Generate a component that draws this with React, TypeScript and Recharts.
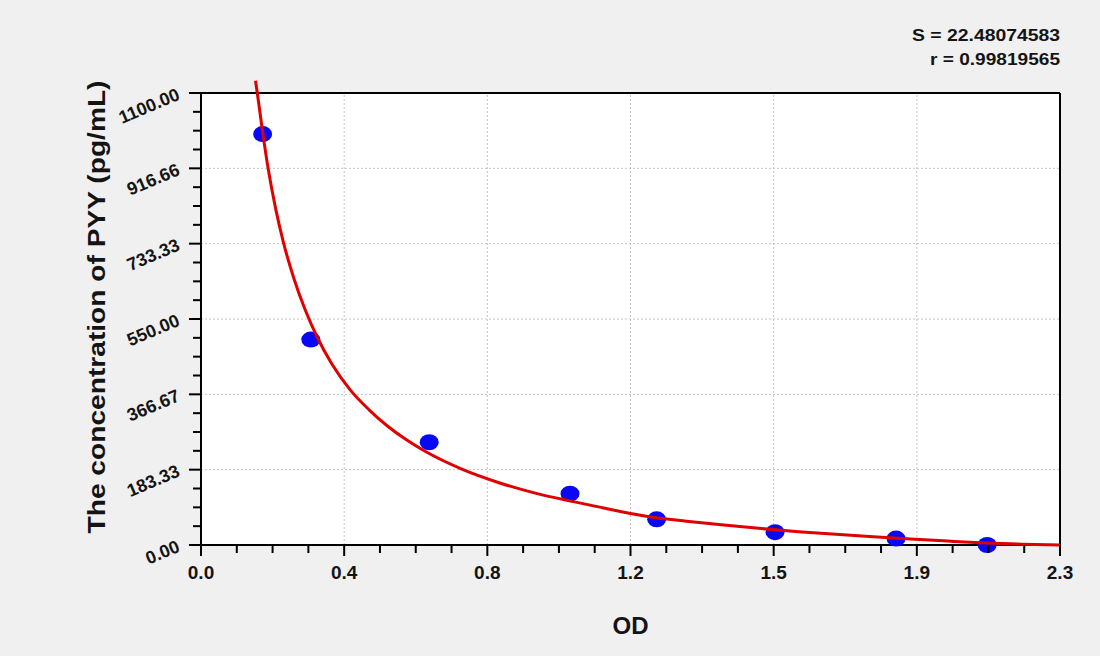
import React from "react";
import {
  ComposedChart,
  Line,
  Scatter,
  XAxis,
  YAxis,
  CartesianGrid,
  ReferenceLine,
} from "recharts";

// ---- data ----
const curveOD = [
  0.146, 0.155, 0.167, 0.18, 0.2, 0.22, 0.25, 0.28, 0.31, 0.35, 0.4, 0.45, 0.5, 0.55,
  0.6, 0.7, 0.8, 0.9, 1.0, 1.1, 1.2, 1.3, 1.4, 1.5, 1.6, 1.7, 1.8, 1.9, 2.0, 2.1, 2.2, 2.3,
];
const curveConc = [
  1130, 1072, 992, 915, 818, 739, 645, 570, 508, 441, 377, 329, 289, 256,
  228, 184, 151, 125, 105, 86, 69, 58, 48.5, 40, 32.5, 26, 20, 14.5, 9.5, 5, 2, 0,
];
const stdOD = [0.165, 0.294, 0.611, 0.988, 1.22, 1.537, 1.861, 2.105];
const stdConc = [1000, 500, 250, 125, 62.5, 31.25, 15.63, 0];

const xTickLabels = ["0.0", "0.4", "0.8", "1.2", "1.5", "1.9", "2.3"];
const yTickLabels = ["0.00", "183.33", "366.67", "550.00", "733.33", "916.66", "1100.00"];
const X_MAX = 2.3;
const Y_MAX = 1100;
const statS = "S = 22.48074583";
const statR = "r = 0.99819565";
const xTitle = "OD";
const yTitle = "The concentration of PYY (pg/mL)";

const curveData = curveOD.map((od, i) => ({ od, conc: curveConc[i] }));
const stdData = stdOD.map((od, i) => ({ od, conc: stdConc[i] }));
const xMajor = xTickLabels.map((_, i) => (X_MAX * i) / 6);
const yMajor = yTickLabels.map((_, i) => (Y_MAX * i) / 6);
const xAll = Array.from({ length: 25 }, (_, i) => (X_MAX * i) / 24);
const yAll = Array.from({ length: 25 }, (_, i) => (Y_MAX * i) / 24);

const FONT = "'Liberation Sans', Arial, Helvetica, sans-serif";
const TXT = "#141414";

const XTick = (props: any) => {
  const { x, y, payload } = props;
  const i = Math.round(payload.value / (X_MAX / 24));
  const major = i % 4 === 0;
  return (
    <g>
      <line x1={x} x2={x} y1={y} y2={y + (major ? 11 : 8)} stroke="#000" strokeWidth={2} />
      {major && (
        <text
          x={x}
          y={y + 34}
          textAnchor="middle"
          fontSize={19}
          fontWeight="bold"
          fontFamily={FONT}
          fill={TXT}
        >
          {xTickLabels[i / 4]}
        </text>
      )}
    </g>
  );
};

const YTick = (props: any) => {
  const { x, y, payload } = props;
  const i = Math.round(payload.value / (Y_MAX / 24));
  const major = i % 4 === 0;
  const tx = x - 20;
  const ty = y + 6;
  return (
    <g>
      <line x1={x - (major ? 12 : 8)} x2={x} y1={y} y2={y} stroke="#000" strokeWidth={2} />
      {major && (
        <text
          x={tx}
          y={ty}
          transform={`rotate(-23, ${tx}, ${ty})`}
          textAnchor="end"
          fontSize={18}
          fontWeight="bold"
          fontFamily={FONT}
          fill={TXT}
        >
          {yTickLabels[i / 4]}
        </text>
      )}
    </g>
  );
};

const YTitle = (props: any) => {
  const vb = props.viewBox || { x: 0, y: 93, width: 201, height: 452 };
  const cx = vb.x + 105;
  const cy = vb.y + vb.height / 2 - 12;
  return (
    <text
      x={cx}
      y={cy}
      transform={`rotate(-90, ${cx}, ${cy})`}
      textAnchor="middle"
      fontSize={24}
      fontWeight="bold"
      fontFamily={FONT}
      fill={TXT}
      textLength={453}
      lengthAdjust="spacingAndGlyphs"
    >
      {yTitle}
    </text>
  );
};

const XTitle = (props: any) => {
  const vb = props.viewBox || { x: 201, y: 545, width: 859, height: 111 };
  return (
    <text
      x={vb.x + vb.width / 2}
      y={vb.y + 89}
      textAnchor="middle"
      fontSize={24}
      fontWeight="bold"
      fontFamily={FONT}
      fill={TXT}
    >
      {xTitle}
    </text>
  );
};

const Dot = (props: any) => (
  <ellipse cx={props.cx} cy={props.cy} rx={9.5} ry={8} fill="#0808f4" />
);

export default function App() {
  return (
    <div style={{ position: "relative", width: 1100, height: 656, background: "#f0f0f0" }}>
      <style>{`body{margin:0;background:#f0f0f0}
.recharts-wrapper svg g, .recharts-wrapper svg path{clip-path:none !important}`}</style>
      <ComposedChart
        width={1100}
        height={656}
        margin={{ top: 93, right: 40, bottom: 0, left: 0 }}
      >
        <CartesianGrid fill="#ffffff" horizontal={false} vertical={false} stroke="none" />
        <XAxis
          type="number"
          dataKey="od"
          domain={[0, X_MAX]}
          allowDataOverflow
          ticks={xAll}
          interval={0}
          tick={<XTick />}
          tickLine={false}
          tickSize={0}
          tickMargin={0}
          height={111}
          axisLine={{ stroke: "#000", strokeWidth: 2 }}
          label={{ content: <XTitle /> }}
        />
        <YAxis
          type="number"
          dataKey="conc"
          domain={[0, Y_MAX]}
          allowDataOverflow
          ticks={yAll}
          interval={0}
          tick={<YTick />}
          tickLine={false}
          tickSize={0}
          tickMargin={0}
          width={201}
          axisLine={{ stroke: "#000", strokeWidth: 2 }}
          label={{ content: <YTitle /> }}
        />
        {xMajor.slice(1, -1).map((v) => (
          <ReferenceLine key={"gx" + v} x={v} stroke="#c4c4c4" strokeDasharray="2 2" strokeWidth={1} />
        ))}
        {yMajor.slice(1, -1).map((v) => (
          <ReferenceLine key={"gy" + v} y={v} stroke="#c4c4c4" strokeDasharray="2 2" strokeWidth={1} />
        ))}
        <ReferenceLine y={Y_MAX} stroke="#000" strokeWidth={2} />
        <ReferenceLine x={X_MAX} stroke="#000" strokeWidth={2} />
        <Scatter data={stdData} dataKey="conc" shape={<Dot />} isAnimationActive={false} />
        <Line
          data={curveData}
          dataKey="conc"
          type="monotone"
          stroke="#e00000"
          strokeWidth={3}
          dot={false}
          activeDot={false}
          isAnimationActive={false}
          zIndex={700}
        />
      </ComposedChart>
      <svg
        width={1100}
        height={100}
        style={{ position: "absolute", left: 0, top: 0, pointerEvents: "none" }}
      >
        <text
          x={1060}
          y={41}
          textAnchor="end"
          fontSize={17}
          fontWeight="bold"
          fontFamily={FONT}
          fill={TXT}
          textLength={148}
          lengthAdjust="spacingAndGlyphs"
        >
          {statS}
        </text>
        <text
          x={1060}
          y={65}
          textAnchor="end"
          fontSize={17}
          fontWeight="bold"
          fontFamily={FONT}
          fill={TXT}
          textLength={130}
          lengthAdjust="spacingAndGlyphs"
        >
          {statR}
        </text>
      </svg>
    </div>
  );
}
